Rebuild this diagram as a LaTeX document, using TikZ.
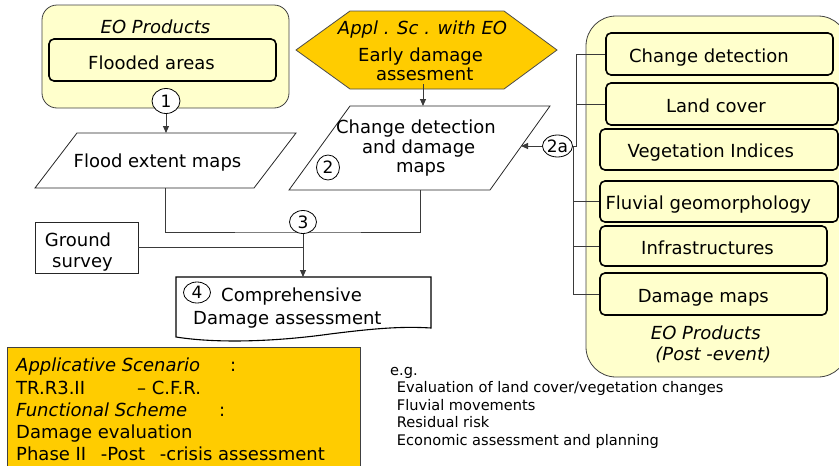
\documentclass[tikz,border=0pt]{standalone}
\usepackage{fontspec}
\setmainfont{DejaVu Sans}
\usetikzlibrary{arrows.meta,shapes.geometric}
\definecolor{paleyellow}{HTML}{FFFFCC}
\definecolor{gold}{HTML}{FFCC00}
\definecolor{wire}{HTML}{3A3A3A}
\begin{document}
\begin{tikzpicture}[x=1pt,y=-1pt,
  txt/.style={font=\fontsize{18}{21}\selectfont, inner sep=0pt, anchor=base},
  txtl/.style={txt, anchor=base west},
  smalltxt/.style={font=\fontsize{14.6}{17}\selectfont, inner sep=0pt, anchor=base west},
  panel/.style={draw=black!75, fill=paleyellow, line width=0.8pt, inner sep=0pt},
  itembox/.style={draw=black, fill=paleyellow, rounded corners=5pt, line width=1.6pt, inner sep=0pt},
  num/.style={draw=black, fill=white, ellipse, inner sep=0pt, line width=0.8pt, font=\fontsize{17}{20}\selectfont},
  link/.style={draw=wire, line width=0.9pt},
  arr/.style={link, -{Triangle[length=7pt,width=6pt]}},
  outline/.style={draw=black!85, line width=0.8pt}
]
\useasboundingbox (0,0) rectangle (839,466);

% ---------- left panel: EO products ----------
\node[panel, rounded corners=15pt, minimum width=247pt, minimum height=103pt] (eoLeft) at (165.5,56.5) {};
\node[txt, font=\fontsize{18}{21}\selectfont\itshape] (eoLeftT) at (155.5,33) {EO Products};
\node[itembox, minimum width=227pt, minimum height=42pt] (flood) at (162.5,60) {};
\node[txt] (floodT) at (151.5,69) {Flooded areas};
\node[num, minimum width=28pt, minimum height=25pt] (c1) at (166,101) {1};

% ---------- flood extent maps ----------
\coordinate (fe1) at (35,188);
\coordinate (fe2) at (77,133);
\coordinate (fe3) at (296,133);
\coordinate (fe4) at (254,188);
\coordinate (feB) at (165,188);
\draw[outline] (fe1) -- (fe2) -- (fe3) -- (fe4) -- cycle;
\node[txt] (feT) at (157.5,167) {Flood extent maps};

% ---------- hexagon: applicative scenario ----------
\draw[draw=black!70, fill=gold, line width=0.8pt]
  (296,50) -- (350,11) -- (504,11) -- (557,50) -- (504,89) -- (350,89) -- cycle;
\node[txt, font=\fontsize{18}{21}\selectfont\itshape] (hexT1) at (422.5,34) {Appl . Sc . with\ EO};
\node[txt] (hexT2) at (420.5,61) {Early damage};
\node[txt] (hexT3) at (424.7,80) {assesment};
\coordinate (hexS) at (423,84);

% ---------- change detection and damage maps ----------
\coordinate (cd1) at (289,190);
\coordinate (cd2) at (350,106);
\coordinate (cd3) at (550,106);
\coordinate (cd4) at (490,190);
\coordinate (cdN) at (423,106);
\coordinate (cdE) at (521,146);
\coordinate (cdB) at (420,190);
\draw[outline] (cd1) -- (cd2) -- (cd3) -- (cd4) -- cycle;
\node[txt] (cdT1) at (416,133) {Change detection};
\node[txt] (cdT2) at (418.7,153) {and damage};
\node[txt] (cdT3) at (420.8,172) {maps};
\node[num, minimum width=23pt, minimum height=25pt] (c2) at (328,167.5) {2};

% ---------- right panel: post-event EO products ----------
\node[panel, rounded corners=30pt, minimum width=262pt, minimum height=361pt] (eoRight) at (717,196.5) {};
\node[itembox, minimum width=227pt, minimum height=42pt] (cdx) at (719.5,54) {};
\node[txt] (cdxT) at (709,62.7) {Change detection};
\node[itembox, minimum width=232pt, minimum height=42pt] (lc) at (722,104) {};
\node[txt] (lcT) at (716,112.7) {Land cover};
\node[itembox, minimum width=238pt, minimum height=41pt] (vi) at (719,149.5) {};
\node[txt] (viT) at (710.8,157.7) {Vegetation Indices};
\node[itembox, minimum width=238pt, minimum height=41pt] (fg) at (719,201.5) {};
\node[txt] (fgT) at (708.3,209.3) {Fluvial geomorphology};
\node[itembox, minimum width=227pt, minimum height=40pt] (inf) at (713.5,246) {};
\node[txt] (infT) at (707.5,254.3) {Infrastructures};
\node[itembox, minimum width=227pt, minimum height=42pt] (dm) at (713.5,294) {};
\node[txt] (dmT) at (703.3,302.7) {Damage maps};
\node[txt, font=\fontsize{18}{21}\selectfont\itshape] (eoRightT1) at (705.8,339.3) {EO Products};
\node[txt, font=\fontsize{18}{21}\selectfont\itshape] (eoRightT2) at (713.3,360.7) {(Post -event)};

% ---------- 2a collector ----------
\node[num, minimum width=29pt, minimum height=22pt] (c2a) at (557.5,146) {2a};
\coordinate (brkU) at (576,146);
\coordinate (brkL) at (573,146);
\draw[link] (cdx.west) -| (brkU) -- (c2a.east);
\draw[link] (lc.west) -- (lc.west -| brkU);
\draw[link] (c2a.east) -- (brkL) |- (dm.west);
\draw[link] (fg.west) -- (fg.west -| brkL);
\draw[link] (inf.west) -- (inf.west -| brkL);
\draw[arr] (c2a.west) -- (cdE);

% ---------- arrows into the map products ----------
\draw[arr] (c1.south) -- (c1.south |- fe3);
\draw[arr] (hexS) -- (cdN);

% ---------- merge towards the comprehensive assessment ----------
\coordinate (bus) at (303,232);
\draw[link] (feB) |- (bus) -| (cdB);
\node[draw=black!85, line width=0.8pt, minimum width=103pt, minimum height=51pt, inner sep=0pt] (gs) at (86.5,247.5) {};
\node[txt] (gsT1) at (78,246) {Ground};
\node[txt] (gsT2) at (82.5,267) {survey};
\draw[link] (gs.east) -- (gs.east -| bus);
\node[num, minimum width=27pt, minimum height=23pt] (c3) at (303,222) {3};

% document shape
\draw[draw=black, fill=white, line width=1.1pt]
  (176,277) -- (431,277) -- (431,328)
  .. controls (400,326) and (370,329) .. (330,334)
  .. controls (280,341) and (220,344) .. (176,337) -- cycle;
\coordinate (docN) at (303,277);
\draw[arr] (c3.south) -- (docN);
\node[num, minimum width=27pt, minimum height=21pt] (c4) at (197,292.5) {4};
\node[txtl] (docT1) at (221,301.7) {Comprehensive};
\node[txtl] (docT2) at (193,324) {Damage assessment};

% ---------- scenario box ----------
\node[draw=black!75, fill=gold, line width=0.8pt, minimum width=353pt, minimum height=130pt, anchor=north west, inner sep=0pt] (scen) at (7,347) {};
\node[txtl, font=\fontsize{18}{21}\selectfont\itshape] (scT1) at (16,371.7) {Applicative Scenario};
\node[txtl] (scT1c) at (230,371.7) {:};
\node[txtl] (scT2) at (16,394) {TR.R3.II};
\node[txtl] (scT2b) at (137,394) {– C.F.R.};
\node[txtl, font=\fontsize{18}{21}\selectfont\itshape] (scT3) at (16,416) {Functional Scheme};
\node[txtl] (scT3c) at (219,416) {:};
\node[txtl] (scT4) at (16,438) {Damage evaluation};
\node[txtl] (scT5) at (16,460.7) {Phase II\hspace{9pt} -Post\hspace{9pt} -crisis assessment};

% ---------- examples ----------
\node[smalltxt] (eg) at (390,375) {e.g.};
\node[smalltxt] (eg1) at (396.7,392.7) {Evaluation of land cover/vegetation changes};
\node[smalltxt] (eg2) at (396.7,410.7) {Fluvial movements};
\node[smalltxt] (eg3) at (396.7,427.3) {Residual risk};
\node[smalltxt] (eg4) at (396.7,445.3) {Economic assessment and planning};
\end{tikzpicture}
\end{document}
